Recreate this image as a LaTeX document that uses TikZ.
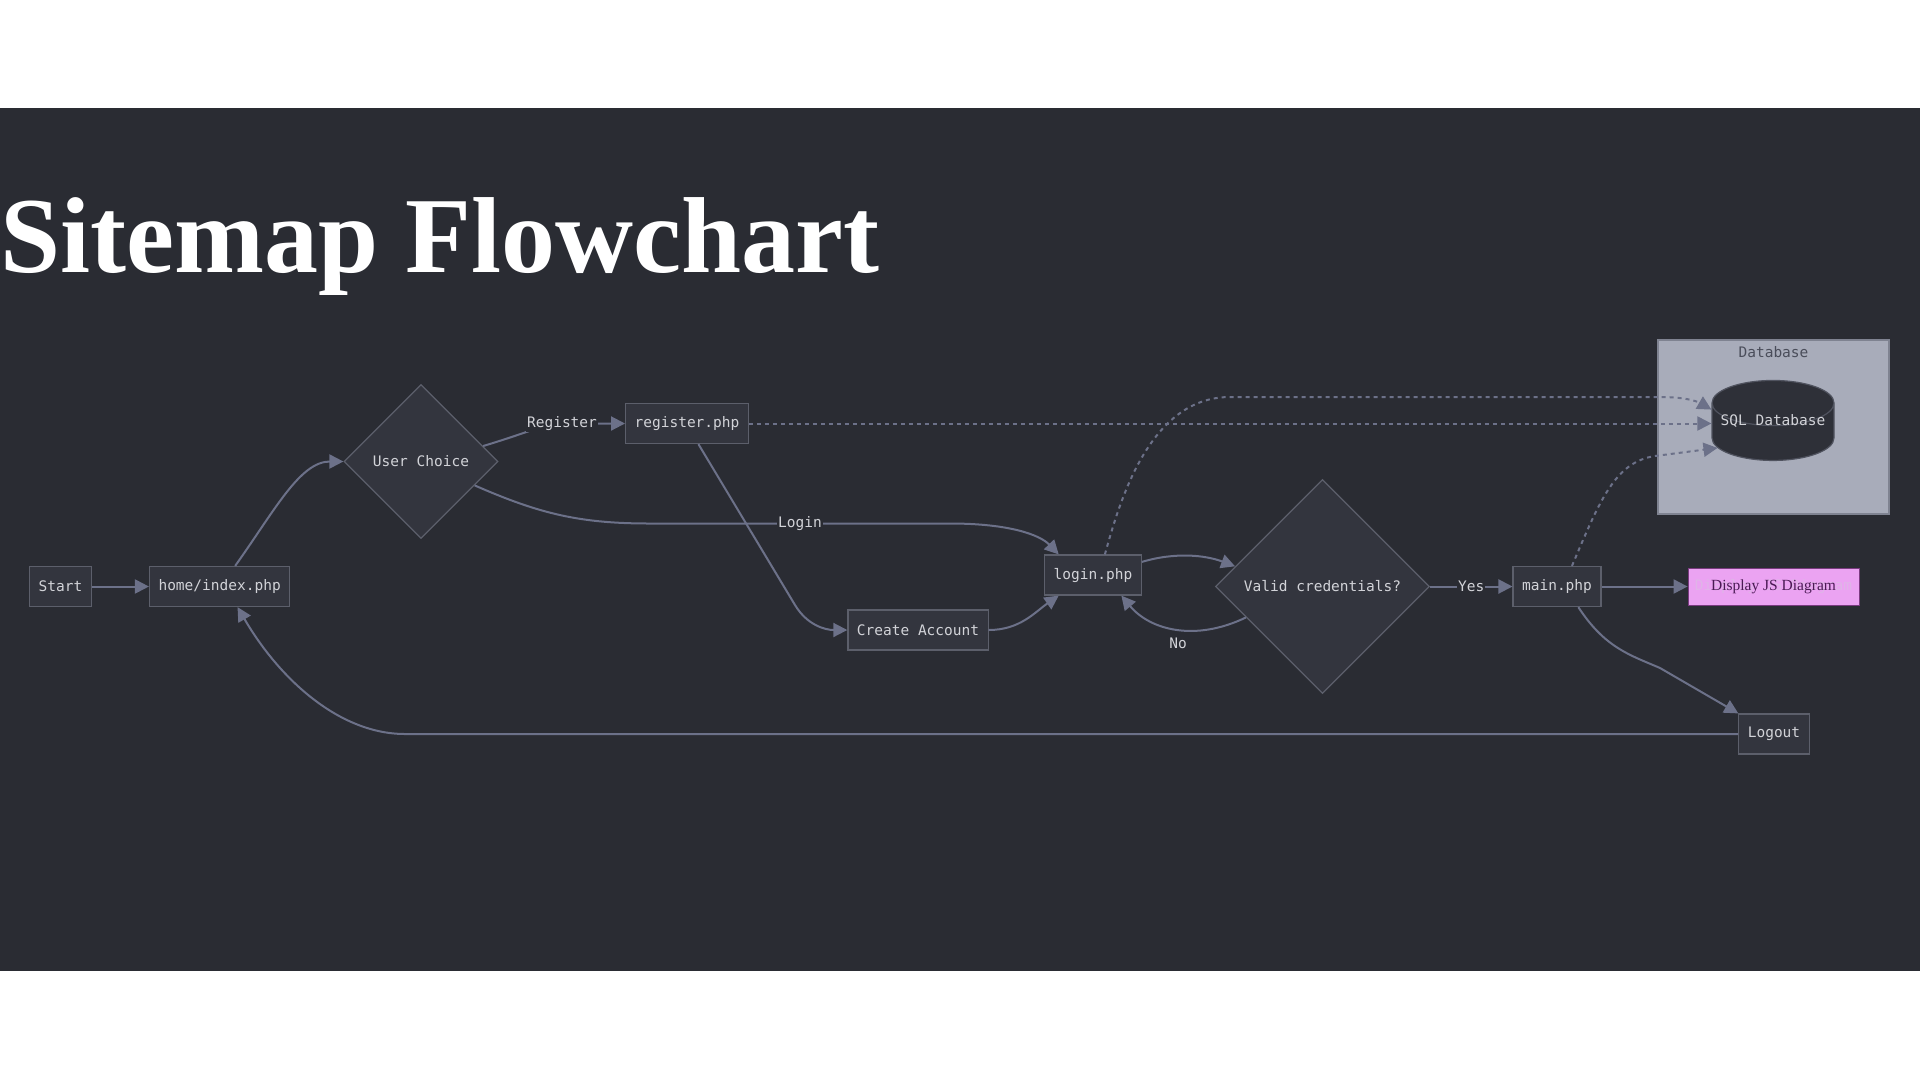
\documentclass[tikz,border=0pt]{standalone}
\usepackage{fontspec}
\setmainfont{Liberation Serif}
\newfontfamily\smmono{DejaVu Sans Mono}
\usepackage{tikz}
\usetikzlibrary{arrows.meta,positioning,shapes.geometric}
\definecolor{smbg}{HTML}{2A2C33}
\definecolor{smfill}{HTML}{33353E}
\definecolor{smborder}{HTML}{5C5F6B}
\definecolor{smtext}{HTML}{D2D3D8}
\definecolor{smedge}{HTML}{6C7189}
\definecolor{smcluster}{HTML}{A8ACBA}
\definecolor{smclusterline}{HTML}{7F8391}
\definecolor{smclustertext}{HTML}{4A4D5A}
\definecolor{smdbfill}{HTML}{2E3038}
\definecolor{smdbline}{HTML}{50535F}
\definecolor{smpink}{HTML}{EBA3F2}
\definecolor{smpinkline}{HTML}{7A3A80}
\definecolor{smpinktext}{HTML}{4B1A55}
\definecolor{smghost}{HTML}{E0B4E8}
\tikzset{
  sm/mono/.style={font=\smmono\fontsize{14.5}{17}\selectfont},
  sm/page/.style={sm/mono, draw=smborder, fill=smfill, line width=1.2pt, text=smtext, inner xsep=9pt, minimum height=40pt},
  sm/decision/.style={sm/mono, diamond, aspect=1, draw=smborder, fill=smfill, line width=1.2pt, text=smtext, inner sep=0pt},
  sm/cluster/.style={draw=smclusterline, fill=smcluster, line width=1.2pt, minimum width=231pt, minimum height=174pt},
  sm/clusterlabel/.style={sm/mono, text=smclustertext, inner sep=1pt},
  sm/db/.style={sm/mono, cylinder, shape border rotate=90, aspect=0.43, draw=smdbline, fill=smdbfill, line width=1.2pt, text=smtext, minimum width=122pt, minimum height=80pt, inner sep=0pt},
  sm/jsbox/.style={sm/mono, draw=smpinkline, fill=smpink, line width=0.8pt, text=smghost, minimum width=171pt, minimum height=37pt, inner sep=0pt},
  sm/jslabel/.style={font=\fontsize{15.5}{18}\selectfont, text=smpinktext, inner sep=0pt},
  sm/line/.style={draw=smedge, line width=2pt},
  sm/edge/.style={sm/line, -{Triangle[length=14pt, width=14pt]}},
  sm/link/.style={sm/edge, dash pattern=on 4pt off 4pt},
  sm/elabel/.style={sm/mono, fill=smbg, text=smtext, inner sep=1pt},
  sm/title/.style={font=\bfseries\fontsize{108}{120}\selectfont, text=white, inner sep=0pt, anchor=base west}
}

\begin{document}
\begin{tikzpicture}[x=1pt, y=-1pt]
  \fill[white] (0,0) rectangle (1920,1080);
  \useasboundingbox (0,0) rectangle (1920,1080);
  \fill[smbg] (0,108) rectangle (1920,971);

  \node[sm/title] (title) at (0,272) {Sitemap Flowchart};

  \node[sm/cluster] (dbgroup) at (1773.5,427) {};
  \node[sm/clusterlabel] (dblabel) at (1773.5,352) {Database};
  \node[sm/db] (sql) at (1773,432) {\raisebox{7pt}[0pt][0pt]{SQL Database}};

  \node[sm/page] (start) at (60.5,586.5) {Start};
  \node[sm/page, right=57pt of start] (home) {home/index.php};
  \node[sm/decision, minimum width=154pt, minimum height=154pt] (uc) at (421,461.5) {User Choice};
  \node[sm/page] (register) at (687,423.5) {register.php};
  \node[sm/page] (create) at (918,630) {Create Account};
  \node[sm/page] (login) at (1093,575) {login.php};
  \node[sm/decision, minimum width=214pt, minimum height=214pt] (valid) at (1322.5,586.5) {Valid credentials?};
  \node[sm/page] (main) at (1557,586.5) {main.php};
  \node[sm/jsbox] (js) at (1773.5,586.5) {Display JS Diagram};
  \node[sm/jslabel] (jstext) at (js) {Display JS Diagram};
  \node[sm/page] (logout) at (1774,734) {Logout};

  \draw[sm/edge] (start) -- (home);
  \draw[sm/edge] (home.53) .. controls (275,510) and (300,461.5) .. (uc.west);
  \draw[sm/edge] (uc.14) .. controls (530,432) and (545,423.5) .. (562,423.5) node[sm/elabel] (lblreg) {Register} -- (register.west);
  \draw[sm/edge] (uc.-24) .. controls (540,514) and (580,523.5) .. (650,523.5) -- node[sm/elabel] (lbllogin) {Login} (950,523.5) .. controls (1010,523.5) and (1040,535) .. (login.149);
  \draw[sm/edge] (register.-61) -- (795,605) .. controls (807,625) and (825,630) .. (create.west);
  \draw[sm/edge] (create.east) .. controls (1020,630) and (1035,612) .. (login.-149);
  \draw[sm/edge] (login.15) .. controls (1175,552) and (1205,555) .. (valid.167);
  \draw[sm/edge] (valid.202) .. controls (1195,642) and (1150,630) .. (login.-36);
  \node[sm/elabel, fill=none] (lblno) at (1178,643) {No};
  \draw[sm/edge] (valid.east) -- node[sm/elabel] (lblyes) {Yes} (main.west);
  \draw[sm/edge] (main) -- (js);
  \draw[sm/edge] (main.-44) .. controls (1605,648) and (1630,655) .. (1660,668) -- (logout.150);
  \draw[sm/edge] (logout.west) -- (405,734) .. controls (340,734) and (280,680) .. (home.-49);

  \draw[sm/link] (register.east) -- (register.east -| sql.180);
  \draw[sm/link] (login.60) .. controls (1120,500) and (1150,397) .. (1230,397) -- (1660,397) .. controls (1690,397) and (1700,403) .. (sql.160);
  \draw[sm/link] (main.54) .. controls (1600,500) and (1615,462) .. (1655,456) -- (sql.196);
\end{tikzpicture}
\end{document}
